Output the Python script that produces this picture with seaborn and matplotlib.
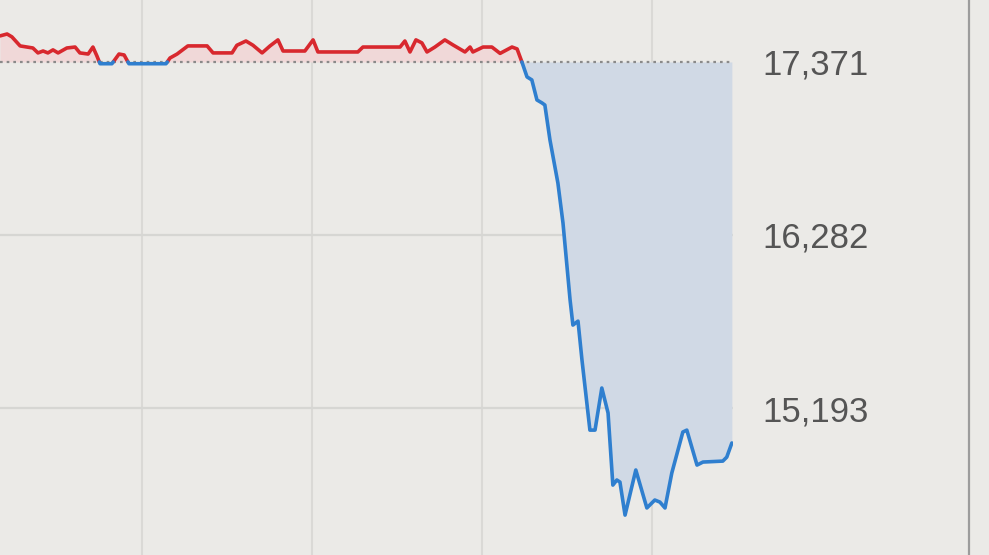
import numpy as np
import pandas as pd
import matplotlib.pyplot as plt
import seaborn as sns

# intraday index, minutes since open vs level
minutes = [0, 2.5, 4.2, 7.1, 11.6, 13.4, 15.2, 16.9, 18.7, 20.5, 23.6, 26.5, 28.2, 31.1,
           32.8, 34.2, 35.3, 39.5, 40.2, 42.0, 43.8, 45.5, 58.6, 60.0, 62.5, 66.3, 73.1,
           75.2, 81.9, 83.6, 86.8, 89.3, 92.5, 95.3, 98.1, 99.9, 107.6, 110.5, 112.2,
           126.3, 128.1, 141.2, 142.9, 144.7, 146.8, 148.9, 150.7, 153.5, 157.0, 159.9,
           164.1, 165.9, 166.9, 170.5, 173.6, 176.5, 180.7, 182.5, 184.2,
           186.0, 187.7, 189.5, 191.3, 192.3, 194.1, 196.9, 198.7, 201.2, 202.2, 204.0,
           205.4, 208.2, 210.0, 212.4, 214.6, 216.3, 217.7, 218.8, 220.6, 224.4, 228.3,
           231.1, 232.9, 234.7, 237.1, 241.0, 242.4, 246.0, 248.1, 255.1, 256.5, 258.3]
price = [17535, 17547, 17529, 17472, 17459, 17428, 17440, 17428, 17447, 17428, 17459, 17465,
         17428, 17421, 17465, 17409, 17360, 17360, 17377, 17421, 17415, 17360, 17360, 17396,
         17421, 17472, 17472, 17428, 17428, 17476, 17503, 17476, 17428, 17472, 17510, 17440,
         17440, 17510, 17434, 17434, 17465, 17465, 17503, 17434, 17510, 17491, 17434, 17465,
         17510, 17478, 17434, 17465, 17434, 17465, 17465, 17425, 17465, 17453, 17371,
         17277, 17258, 17132, 17113, 17100, 16880, 16609, 16357, 15873, 15715, 15740,
         15495, 15054, 15054, 15319, 15162, 14708, 14740, 14727, 14519, 14803, 14564,
         14614, 14601, 14564, 14784, 15042, 15054, 14834, 14853, 14859, 14884, 14973]
prev_close = 17371
ytick_vals = [15193, 16282, 17371]
xgrid_vals = [50, 110, 170, 230]

# split the line where it crosses the previous close
rows = []
seg = 0
side = "up" if price[0] >= prev_close else "down"
rows.append((minutes[0], price[0], seg, side))
for i in range(1, len(minutes)):
    s = "up" if price[i] > prev_close or (price[i] == prev_close and side == "up") else "down"
    if s != side:
        a = price[i - 1] - prev_close
        b = price[i] - prev_close
        xc = minutes[i - 1] if a == b else minutes[i - 1] + (minutes[i] - minutes[i - 1]) * a / (a - b)
        rows.append((xc, prev_close, seg, side))
        seg += 1
        side = s
        rows.append((xc, prev_close, seg, side))
    rows.append((minutes[i], price[i], seg, side))
df = pd.DataFrame(rows, columns=["t", "price", "seg", "side"])

sns.set_theme(style="white")
plt.rcParams["font.family"] = ["Liberation Sans", "DejaVu Sans"]
bg = "#ebeae7"

fig = plt.figure(figsize=(9.89, 5.55), dpi=100, facecolor=bg)
ax = fig.add_axes([0, 0, 733 / 989, 1])
ax.set_facecolor(bg)

for x in xgrid_vals:
    ax.axvline(x, color="#dad9d6", lw=1.5, zorder=0)
for y in ytick_vals[:-1]:
    ax.axhline(y, color="#d6d6d3", lw=1.6, zorder=0)

fills = {"up": "#f0d8d8", "down": "#d0d9e5"}
for _, g in df.groupby("seg"):
    ax.fill_between(g["t"], g["price"], prev_close, color=fills[g["side"].iloc[0]], lw=0, zorder=1)

ax.axhline(prev_close, color="#8a8a8a", lw=1.6, ls=(0, (1.2, 1.8)), zorder=2)

sns.lineplot(data=df, x="t", y="price", hue="side", units="seg", estimator=None,
             palette={"up": "#d8282e", "down": "#2f7fcf"}, linewidth=2.6,
             legend=False, ax=ax, zorder=3)

ax.set_xlim(0, 258.7)
ax.set_ylim(14268, 17761)
ax.set_xticks([])
ax.set_yticks(ytick_vals)
ax.set_yticklabels([f"{v:,}" for v in ytick_vals])
ax.tick_params(axis="y", left=False, labelleft=False, right=False, labelright=True,
               pad=15, labelsize=25, labelcolor="#555555")
ax.set_xlabel("")
ax.set_ylabel("")
for sp in ax.spines.values():
    sp.set_visible(False)

fig.add_artist(plt.Line2D([969 / 989, 969 / 989], [0, 1], transform=fig.transFigure,
                          color="#9c9c9c", lw=1.6))

fig.savefig("out.png", dpi=100, facecolor=bg)
